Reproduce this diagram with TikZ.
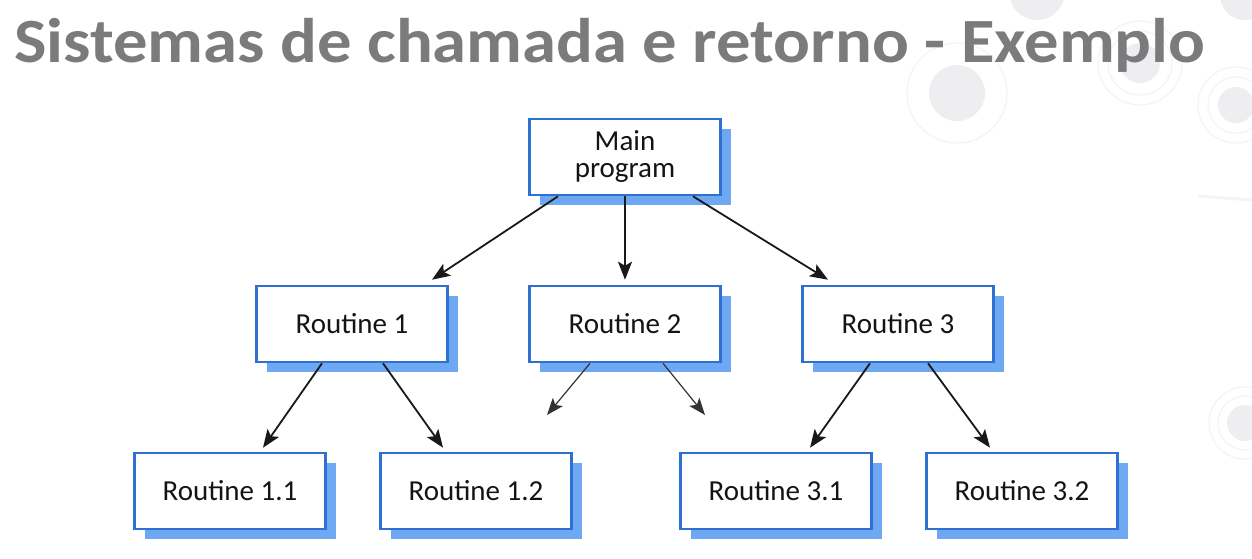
\documentclass[tikz,border=0pt]{standalone}
\usepackage{fontspec}
\setmainfont{Carlito}
\usetikzlibrary{arrows.meta,shadows}
\definecolor{titlegray}{HTML}{7B7B7D}
\definecolor{boxblue}{HTML}{2F71D2}
\definecolor{shadowblue}{HTML}{6EA8F2}
\definecolor{decofill}{HTML}{EEEEF1}
\definecolor{decoring}{HTML}{F4F4F6}
\tikzset{
  routinebox/.style={draw=boxblue, line width=2.6pt, fill=white,
    minimum width=191pt, minimum height=76pt, inner sep=0pt, align=center,
    font=\fontsize{29}{31}\selectfont, text=black!92,
    drop shadow={shadow xshift=10pt, shadow yshift=-10pt, fill=shadowblue, opacity=1}},
  callarrow/.style={draw=black!90, line width=1.8pt, -{Stealth[length=18pt,width=14pt,inset=4pt]}},
  thinarrow/.style={draw=black!80, line width=1.2pt, -{Stealth[length=17pt,width=13pt,inset=4pt]}},
  decodisc/.style={fill=decofill, draw=none},
  decoring/.style={draw=decoring, line width=1.2pt, fill=none}
}
\begin{document}
\begin{tikzpicture}[x=1pt,y=-1pt]
\useasboundingbox (0,0) rectangle (1252,558);
\fill[white] (0,0) rectangle (1252,558);
% faint background decorations
\fill[decodisc] (957,93) circle (28);
\draw[decoring] (957,93) circle (50);
\fill[decodisc] (1140,63) circle (20);
\draw[decoring] (1140,63) circle (32) (1140,63) circle (42);
\fill[decodisc] (1236,105) circle (18);
\draw[decoring] (1236,105) circle (28) (1236,105) circle (38);
\fill[decodisc] (1037,-8) circle (28);
\fill[decodisc] (1245,-5) circle (25);
\fill[decodisc] (1245,423) circle (18);
\draw[decoring] (1245,423) circle (27) (1245,423) circle (36);
\draw[decoring, line width=3pt] (1198,196) -- (1252,200);
% title
\node[anchor=base west, inner sep=0pt, text=titlegray, xscale=1.09,
      font=\fontsize{63}{66}\bfseries\selectfont] (title) at (14,62)
      {Sistemas de chamada e retorno - Exemplo};
% boxes
\node[routinebox] (main) at (625,157) {Main\\[-4pt]program};
\node[routinebox] (r1) at (352,324) {Routine 1};
\node[routinebox] (r2) at (625,324) {Routine 2};
\node[routinebox] (r3) at (898,324) {Routine 3};
\node[routinebox] (r11) at (230,491) {Routine 1.1};
\node[routinebox] (r12) at (476,491) {Routine 1.2};
\node[routinebox] (r31) at (776,491) {Routine 3.1};
\node[routinebox] (r32) at (1022,491) {Routine 3.2};
% free ends
\coordinate (r2l) at (547,415);
\coordinate (r2r) at (705,415);
% connectors
\draw[callarrow] ([xshift=-67pt]main.south) -- ([xshift=80pt,yshift=5pt]r1.north);
\draw[callarrow] (main.south) -- ([yshift=5pt]r2.north);
\draw[callarrow] ([xshift=68pt]main.south) -- ([xshift=-70pt,yshift=5pt]r3.north);
\draw[callarrow] ([xshift=-30pt]r1.south) -- ([xshift=33pt,yshift=4pt]r11.north);
\draw[callarrow] ([xshift=31pt]r1.south) -- ([xshift=-33pt,yshift=4pt]r12.north);
\draw[thinarrow] ([xshift=-35pt]r2.south) -- (r2l);
\draw[thinarrow] ([xshift=38pt]r2.south) -- (r2r);
\draw[callarrow] ([xshift=-28pt]r3.south) -- ([xshift=34pt,yshift=4pt]r31.north);
\draw[callarrow] ([xshift=30pt]r3.south) -- ([xshift=-32pt,yshift=4pt]r32.north);
\end{tikzpicture}
\end{document}
